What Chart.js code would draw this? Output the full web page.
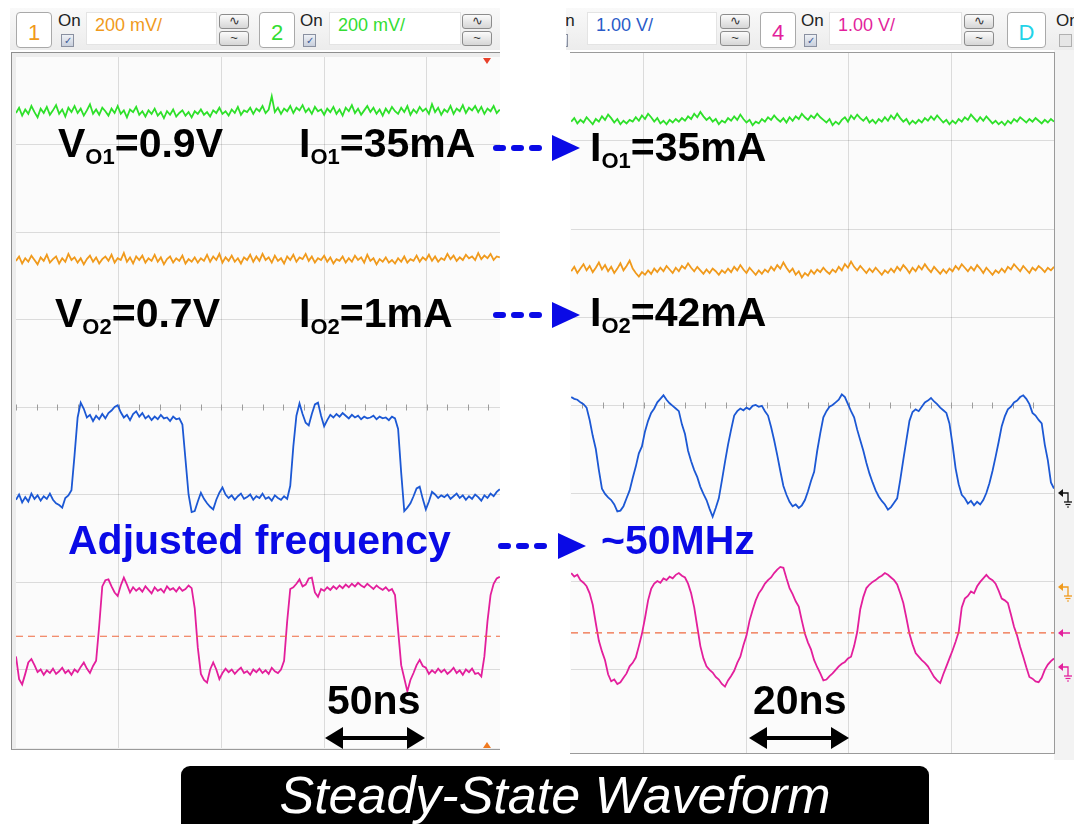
<!DOCTYPE html>
<html>
<head>
<meta charset="utf-8">
<script src="https://cdn.jsdelivr.net/npm/chart.js@4.4.1/dist/chart.umd.min.js"></script>
<style>
  body { margin: 0; width: 1074px; height: 824px; background: #fff; position: relative; overflow: hidden;
         font-family: "Liberation Sans", Arial, sans-serif; }
  .hdr { position: absolute; top: 8px; height: 42px; background: linear-gradient(#f9f9f9, #ececec); overflow: hidden; }
  .chbox { position: absolute; width: 34px; height: 34px; background: #fff; border: 1px solid #a9a9a9;
           border-radius: 4px; font-size: 22px; text-align: center; line-height: 40px; }
  .on { position: absolute; font-size: 17px; line-height: 17px; color: #222; }
  .cb { position: absolute; width: 11px; height: 11px; border: 1px solid #8a90a0;
        background: linear-gradient(#eef1f6, #c8cfdc); font-size: 10px; line-height: 11px; text-align: center; color: #3a5898; }
  .field { position: absolute; height: 33px; background: #fff; border: 1px solid #e4e4e4; box-sizing: border-box;
           font-size: 18px; line-height: 24px; padding-left: 8px; }
  .btn { position: absolute; width: 28px; height: 13px; border: 1px solid #8c8c8c; border-radius: 3px;
         background: linear-gradient(#fbfbfb, #d6d6d6); font-size: 13px; line-height: 11px; text-align: center; color: #333; }
  .frame { position: absolute; box-sizing: border-box; background: #ededed; }
  canvas { position: absolute; background: #fbfbfb; }
  .lbl { position: absolute; font-weight: bold; font-size: 41px; line-height: 41px; white-space: nowrap; color: #000; }
  .lbl sub { font-size: 22px; line-height: 22px; vertical-align: -7px; }
  #banner { position: absolute; left: 181px; top: 766px; width: 748px; height: 72px; background: #000; border-radius: 9px; }
  #banner div { position: absolute; left: 0; right: 0; top: 3px; text-align: center; color: #fff;
                font-style: italic; font-size: 52px; line-height: 52px; }
  svg { position: absolute; left: 0; top: 0; }
</style>
</head>
<body>

<div class="hdr" id="hdrLeft" style="left:10px;width:490px"></div>
<div class="hdr" id="hdrRight" style="left:566px;width:508px"></div>

<div class="frame" style="left:11px;top:52px;width:489px;height:698px;border-left:1px solid #8e8e8e;border-top:1px solid #8e8e8e;border-bottom:1px solid #9a9a9a"></div>
<canvas id="scopeLeft" width="484" height="691" style="left:16px;top:57px"></canvas>

<div class="frame" style="left:1054px;top:50px;width:20px;height:710px;background:#f3f3f3"></div>
<div class="frame" style="left:570px;top:52px;width:485px;height:702px;border-top:1px solid #9a9a9a;border-right:1px solid #9a9a9a;border-bottom:1px solid #9a9a9a;background:#fbfbfb"></div>
<canvas id="scopeRight" width="483" height="700" style="left:571px;top:53px"></canvas>

<div id="labels"></div>
<svg id="marks" width="1074" height="824"></svg>

<div id="banner"><div>Steady-State Waveform</div></div>

<script>
// Left capture: 50 ns/div, one sample every 1.5 ns from 0 ns.
// Right capture: 20 ns/div, one sample every 0.6 ns from 5.8 ns.
const LEFT_T0 = 0, LEFT_DT = 1.5, LEFT_TMAX = 235.6;
const RIGHT_T0 = 5.8, RIGHT_DT = 0.6, RIGHT_TMIN = 5.76, RIGHT_TMAX = 100;

const leftTimeGrid = [50, 100, 150, 200];
const rightTimeGrid = [20, 40, 60, 80];
const voltGrid = [-3, -2, -1, 0, 1, 2, 3];

const leftTrigger = -2.62;
const rightTrigger = -2.59;

const greenLeft = [
  3.36,3.42,3.33,3.40,3.35,3.44,3.37,3.31,3.41,3.36,
  3.43,3.34,3.39,3.45,3.35,3.40,3.32,3.42,3.37,3.44,
  3.36,3.41,3.33,3.39,3.46,3.35,3.40,3.34,3.42,3.38,
  3.33,3.41,3.36,3.44,3.35,3.39,3.31,3.40,3.37,3.43,
  3.34,3.38,3.32,3.39,3.35,3.41,3.33,3.37,3.30,3.38,
  3.34,3.40,3.32,3.36,3.39,3.33,3.37,3.31,3.38,3.35,
  3.40,3.34,3.37,3.32,3.39,3.36,3.42,3.35,3.38,3.33,
  3.40,3.36,3.43,3.34,3.39,3.37,3.42,3.35,3.41,3.38,
  3.44,3.36,3.40,3.55,3.37,3.42,3.35,3.41,3.38,3.44,
  3.36,3.42,3.39,3.45,3.37,3.41,3.35,3.43,3.38,3.40,
  3.34,3.41,3.37,3.43,3.35,3.40,3.33,3.42,3.38,3.45,
  3.36,3.41,3.34,3.39,3.44,3.37,3.42,3.35,3.40,3.33,
  3.41,3.36,3.43,3.38,3.35,3.42,3.37,3.44,3.34,3.40,
  3.36,3.43,3.38,3.41,3.35,3.46,3.37,3.42,3.34,3.40,
  3.37,3.44,3.35,3.41,3.38,3.45,3.36,3.42,3.39,3.44,
  3.37,3.43,3.35,3.41,3.38,3.44,3.36,3.40
];

const orangeLeft = [
  1.67,1.72,1.64,1.70,1.66,1.73,1.68,1.63,1.71,1.67,
  1.74,1.65,1.69,1.72,1.64,1.70,1.66,1.75,1.68,1.71,
  1.65,1.70,1.63,1.69,1.73,1.66,1.71,1.64,1.69,1.72,
  1.67,1.74,1.65,1.70,1.68,1.76,1.66,1.71,1.64,1.72,
  1.68,1.73,1.65,1.70,1.67,1.74,1.66,1.71,1.63,1.69,
  1.72,1.65,1.70,1.67,1.73,1.64,1.69,1.66,1.71,1.65,
  1.70,1.67,1.74,1.66,1.72,1.68,1.75,1.65,1.71,1.67,
  1.73,1.66,1.70,1.64,1.71,1.68,1.74,1.66,1.72,1.67,
  1.75,1.68,1.71,1.65,1.73,1.67,1.70,1.64,1.72,1.68,
  1.74,1.66,1.71,1.69,1.75,1.67,1.72,1.65,1.70,1.68,
  1.73,1.66,1.71,1.64,1.69,1.67,1.72,1.65,1.70,1.66,
  1.73,1.68,1.71,1.65,1.74,1.67,1.70,1.63,1.69,1.66,
  1.71,1.65,1.68,1.64,1.70,1.66,1.72,1.65,1.69,1.67,
  1.73,1.66,1.71,1.68,1.74,1.67,1.72,1.66,1.70,1.68,
  1.75,1.69,1.73,1.67,1.71,1.68,1.74,1.70,1.72,1.68,
  1.76,1.69,1.73,1.70,1.75,1.68,1.72,1.71
];

const blueLeft = [
  -1.06,-1.00,-1.09,-1.03,-1.08,-0.99,-1.05,-1.01,-1.07,-1.02,
  -1.05,-0.99,-1.06,-1.10,-1.12,-1.15,-1.04,-1.01,-0.95,-0.55,
  -0.12,0.05,-0.02,-0.12,-0.09,-0.16,-0.10,-0.14,-0.08,-0.13,
  -0.07,-0.04,0.00,0.02,-0.06,-0.12,-0.09,-0.15,-0.08,-0.05,
  -0.11,-0.07,-0.13,-0.10,-0.15,-0.11,-0.14,-0.09,-0.13,-0.12,
  -0.16,-0.11,-0.14,-0.13,-0.20,-0.60,-1.00,-1.20,-1.19,-1.08,
  -0.98,-1.05,-1.10,-1.14,-1.17,-1.06,-0.98,-0.92,-1.00,-1.04,
  -1.01,-1.06,-1.02,-0.99,-1.05,-1.03,-1.00,-1.06,-1.02,-1.04,
  -0.99,-1.05,-1.03,-1.07,-1.01,-1.04,-1.06,-1.02,-1.05,-0.90,
  -0.45,-0.10,0.04,-0.08,-0.18,-0.21,-0.08,0.03,0.05,-0.10,
  -0.22,-0.15,-0.09,-0.12,-0.08,-0.11,-0.07,-0.10,-0.13,-0.09,
  -0.12,-0.10,-0.14,-0.11,-0.13,-0.12,-0.10,-0.14,-0.11,-0.13,
  -0.12,-0.15,-0.11,-0.13,-0.25,-0.75,-1.19,-1.15,-1.10,-1.02,
  -0.93,-0.91,-1.05,-1.17,-1.08,-0.97,-1.00,-1.04,-1.01,-1.03,
  -1.00,-1.05,-1.02,-0.99,-1.04,-1.01,-1.06,-1.02,-1.05,-1.00,
  -1.03,-1.07,-1.01,-1.04,-0.99,-1.02,-0.97,-0.94
];

const pinkLeft = [
  -2.85,-3.11,-3.17,-3.05,-2.92,-2.88,-2.95,-3.03,-3.00,-3.06,
  -3.01,-3.04,-2.99,-3.05,-3.02,-2.98,-3.04,-3.01,-3.06,-3.00,
  -3.03,-2.97,-2.92,-2.99,-3.04,-2.96,-2.90,-2.50,-2.05,-1.98,
  -1.97,-2.05,-2.12,-2.16,-2.04,-1.95,-2.03,-2.12,-2.06,-2.10,
  -2.07,-2.11,-2.05,-2.09,-2.13,-2.06,-2.10,-2.08,-2.12,-2.05,
  -2.09,-2.07,-2.11,-2.06,-2.10,-2.08,-2.04,-2.07,-2.30,-2.75,
  -3.05,-3.12,-3.15,-3.00,-2.92,-3.00,-3.11,-3.04,-2.99,-3.03,
  -3.00,-3.05,-3.01,-2.98,-3.04,-3.02,-3.06,-3.00,-3.03,-2.99,
  -3.04,-3.01,-3.05,-2.98,-3.02,-3.04,-3.00,-2.90,-2.45,-2.08,
  -2.06,-2.02,-1.97,-2.05,-2.03,-1.96,-1.95,-2.12,-2.17,-2.08,
  -2.10,-2.06,-2.09,-2.05,-2.08,-2.04,-2.07,-2.03,-2.06,-2.02,
  -2.05,-2.01,-2.04,-2.06,-2.02,-2.05,-2.08,-2.04,-2.07,-2.09,
  -2.06,-2.10,-2.08,-2.15,-2.55,-2.95,-3.10,-3.25,-3.12,-3.04,
  -2.95,-2.89,-2.96,-2.98,-3.05,-3.01,-3.04,-2.99,-3.03,-3.00,
  -3.05,-3.02,-2.98,-3.04,-3.01,-3.06,-3.00,-3.03,-2.99,-3.05,
  -3.04,-3.08,-2.85,-2.45,-2.15,-2.02,-1.96,-1.94
];

const greenRight = [
  3.22,3.26,3.20,3.24,3.21,3.27,3.23,3.19,3.25,3.22,
  3.28,3.24,3.30,3.26,3.21,3.25,3.19,3.23,3.20,3.24,
  3.22,3.27,3.23,3.29,3.25,3.31,3.27,3.22,3.26,3.20,
  3.23,3.19,3.24,3.21,3.25,3.22,3.26,3.23,3.28,3.25,
  3.31,3.27,3.33,3.28,3.24,3.27,3.22,3.25,3.19,3.23,
  3.21,3.26,3.23,3.28,3.24,3.30,3.25,3.21,3.24,3.18,
  3.22,3.20,3.25,3.22,3.27,3.24,3.29,3.25,3.22,3.26,
  3.21,3.27,3.23,3.28,3.25,3.31,3.27,3.24,3.29,3.26,
  3.31,3.27,3.24,3.21,3.25,3.18,3.22,3.19,3.24,3.27,
  3.22,3.29,3.25,3.30,3.26,3.23,3.27,3.21,3.24,3.20,
  3.25,3.22,3.27,3.23,3.29,3.25,3.31,3.26,3.22,3.25,
  3.19,3.23,3.20,3.24,3.21,3.26,3.23,3.28,3.24,3.29,
  3.25,3.21,3.24,3.19,3.23,3.20,3.25,3.22,3.27,3.24,
  3.30,3.26,3.22,3.27,3.23,3.28,3.24,3.20,3.23,3.19,
  3.22,3.18,3.23,3.20,3.25,3.22,3.27,3.24,3.21,3.25,
  3.22,3.26,3.23,3.20,3.24,3.21,3.25,3.22
];

const orangeRight = [
  1.52,1.57,1.50,1.55,1.60,1.53,1.58,1.51,1.56,1.62,
  1.54,1.59,1.52,1.57,1.50,1.55,1.61,1.53,1.58,1.64,
  1.55,1.50,1.46,1.51,1.48,1.53,1.49,1.55,1.51,1.56,
  1.52,1.58,1.54,1.50,1.56,1.52,1.58,1.55,1.61,1.56,
  1.52,1.57,1.53,1.49,1.54,1.50,1.55,1.52,1.48,1.53,
  1.50,1.55,1.51,1.57,1.53,1.59,1.54,1.50,1.56,1.52,
  1.48,1.53,1.49,1.54,1.51,1.57,1.53,1.59,1.55,1.62,
  1.56,1.51,1.55,1.48,1.52,1.45,1.50,1.47,1.53,1.49,
  1.54,1.51,1.56,1.52,1.49,1.54,1.51,1.57,1.53,1.60,
  1.56,1.63,1.57,1.53,1.58,1.54,1.50,1.55,1.51,1.56,
  1.52,1.48,1.53,1.50,1.55,1.51,1.57,1.53,1.59,1.55,
  1.50,1.56,1.52,1.58,1.54,1.60,1.55,1.51,1.57,1.53,
  1.49,1.54,1.50,1.55,1.52,1.58,1.54,1.60,1.56,1.52,
  1.57,1.53,1.59,1.55,1.50,1.56,1.52,1.48,1.53,1.50,
  1.55,1.51,1.57,1.54,1.60,1.56,1.52,1.58,1.54,1.50,
  1.56,1.53,1.58,1.55,1.51,1.56,1.53,1.57
];

const blueRight = [
  0.09,0.07,0.06,0.03,0.01,-0.03,-0.17,-0.35,-0.50,-0.74,
  -0.95,-1.01,-1.05,-1.08,-1.13,-1.21,-1.20,-1.15,-1.06,-0.97,
  -0.83,-0.70,-0.55,-0.47,-0.30,-0.18,-0.09,-0.04,0.03,0.07,
  0.11,0.06,0.02,-0.01,-0.04,-0.07,-0.22,-0.33,-0.52,-0.64,
  -0.74,-0.82,-0.93,-1.01,-1.08,-1.18,-1.27,-1.17,-1.06,-0.86,
  -0.65,-0.45,-0.28,-0.12,-0.07,-0.04,-0.06,-0.03,-0.05,-0.01,
  0.00,-0.02,-0.01,-0.07,-0.12,-0.25,-0.40,-0.57,-0.75,-0.92,
  -1.02,-1.10,-1.15,-1.13,-1.17,-1.14,-1.08,-0.98,-0.86,-0.76,
  -0.52,-0.32,-0.14,-0.07,-0.02,0.00,0.03,0.06,0.12,0.09,
  0.01,-0.07,-0.14,-0.28,-0.40,-0.52,-0.66,-0.78,-0.88,-0.97,
  -1.04,-1.09,-1.13,-1.19,-1.16,-1.11,-1.06,-0.85,-0.62,-0.40,
  -0.18,-0.08,-0.05,-0.07,-0.02,0.03,0.05,0.08,0.04,0.01,
  -0.03,-0.06,-0.09,-0.21,-0.45,-0.72,-0.90,-1.02,-1.06,-1.12,
  -1.09,-1.14,-1.10,-1.13,-1.08,-1.00,-0.89,-0.75,-0.59,-0.42,
  -0.24,-0.13,-0.05,-0.02,0.03,0.05,0.09,0.11,0.07,0.01,
  -0.09,-0.12,-0.17,-0.21,-0.45,-0.63,-0.88,-0.95
];

const pinkRight = [
  -1.91,-1.95,-1.93,-1.99,-2.02,-2.06,-2.14,-2.27,-2.48,-2.68,
  -2.80,-2.90,-3.06,-3.14,-3.12,-3.17,-3.15,-3.10,-3.05,-2.97,
  -2.93,-2.87,-2.74,-2.60,-2.42,-2.22,-2.09,-2.03,-2.00,-2.02,
  -1.97,-1.99,-1.95,-1.97,-1.93,-1.91,-1.94,-1.96,-2.03,-2.14,
  -2.30,-2.52,-2.74,-2.88,-2.97,-3.01,-3.04,-3.09,-3.12,-3.17,
  -3.20,-3.13,-3.08,-3.02,-2.93,-2.86,-2.73,-2.62,-2.45,-2.33,
  -2.22,-2.14,-2.09,-2.03,-1.99,-1.96,-1.91,-1.87,-1.84,-1.85,
  -1.97,-2.08,-2.15,-2.23,-2.29,-2.45,-2.60,-2.70,-2.78,-2.90,
  -2.98,-3.05,-3.13,-3.12,-3.08,-3.05,-3.01,-2.97,-2.94,-2.92,
  -2.88,-2.86,-2.74,-2.58,-2.32,-2.18,-2.08,-2.04,-2.01,-1.99,
  -1.96,-1.94,-1.91,-1.93,-1.96,-1.99,-2.04,-2.14,-2.25,-2.42,
  -2.60,-2.72,-2.82,-2.86,-2.90,-2.93,-2.97,-3.03,-3.09,-3.13,
  -3.16,-3.06,-2.97,-2.88,-2.79,-2.69,-2.58,-2.30,-2.20,-2.17,
  -2.12,-2.14,-2.06,-2.01,-1.97,-1.93,-1.97,-1.99,-2.03,-2.11,
  -2.20,-2.22,-2.25,-2.38,-2.52,-2.62,-2.75,-2.86,-2.98,-3.09,
  -3.11,-3.14,-3.15,-3.10,-3.01,-2.95,-2.91,-2.88
];

const GREEN = '#2ee02a', ORANGE = '#f09a1c', BLUE = '#1c58d4', PINK = '#e31f9c', TRIG = '#f06a40';

function toXY(t0, dt, vals) {
  return vals.map((v, i) => ({ x: t0 + i * dt, y: v }));
}

// Small tick marks along the centre line, 1/5 of a division apart
const centerTicks = {
  id: 'centerTicks',
  beforeDatasetsDraw(chart, args, opts) {
    const { ctx, scales: { x, y } } = chart;
    const y0 = Math.round(y.getPixelForValue(0)) + 0.5;
    ctx.save();
    ctx.strokeStyle = '#9c9c9c';
    ctx.lineWidth = 1;
    for (let t = Math.ceil(x.min / opts.step) * opts.step; t <= x.max; t += opts.step) {
      const px = Math.round(x.getPixelForValue(t)) + 0.5;
      ctx.beginPath();
      ctx.moveTo(px, y0 - 3);
      ctx.lineTo(px, y0 + 3);
      ctx.stroke();
    }
    ctx.restore();
  }
};

function trace(data, color) {
  return { data: data, borderColor: color, borderWidth: 1.8, pointRadius: 0, tension: 0, fill: false };
}

function makeScope(id, xMin, xMax, yMin, timeGrid, minorStep, trigger, traces) {
  const datasets = [{
    data: [{ x: xMin, y: trigger }, { x: xMax, y: trigger }],
    borderColor: TRIG, borderWidth: 1.2, borderDash: [7, 5], pointRadius: 0, fill: false
  }].concat(traces);

  return new Chart(document.getElementById(id), {
    type: 'line',
    data: { datasets: datasets },
    plugins: [centerTicks],
    options: {
      responsive: false,
      animation: false,
      events: [],
      layout: { padding: 0, autoPadding: false },
      plugins: {
        legend: { display: false },
        tooltip: { enabled: false },
        centerTicks: { step: minorStep }
      },
      scales: {
        x: {
          type: 'linear', min: xMin, max: xMax,
          afterBuildTicks: axis => { axis.ticks = timeGrid.map(v => ({ value: v })); },
          ticks: { display: false },
          grid: { color: 'rgba(0,0,0,0.13)', drawTicks: false },
          border: { display: false }
        },
        y: {
          type: 'linear', min: yMin, max: 4,
          afterBuildTicks: axis => { axis.ticks = voltGrid.map(v => ({ value: v })); },
          ticks: { display: false },
          grid: { color: 'rgba(0,0,0,0.13)', drawTicks: false },
          border: { display: false }
        }
      }
    }
  });
}

makeScope('scopeLeft', 0, LEFT_TMAX, 4 - 691 / 87.5, leftTimeGrid, 10, leftTrigger, [
  trace(toXY(LEFT_T0, LEFT_DT, greenLeft), GREEN),
  trace(toXY(LEFT_T0, LEFT_DT, orangeLeft), ORANGE),
  trace(toXY(LEFT_T0, LEFT_DT, blueLeft), BLUE),
  trace(toXY(LEFT_T0, LEFT_DT, pinkLeft), PINK)
]);

makeScope('scopeRight', RIGHT_TMIN, RIGHT_TMAX, 4 - 700 / 88, rightTimeGrid, 4, rightTrigger, [
  trace(toXY(RIGHT_T0, RIGHT_DT, greenRight), GREEN),
  trace(toXY(RIGHT_T0, RIGHT_DT, orangeRight), ORANGE),
  trace(toXY(RIGHT_T0, RIGHT_DT, blueRight), BLUE),
  trace(toXY(RIGHT_T0, RIGHT_DT, pinkRight), PINK)
]);

// Scope header strips
function put(parent, cls, x, y, html, style) {
  const d = document.createElement('div');
  d.className = cls;
  d.style.left = (x - parent.offsetLeft) + 'px';
  d.style.top = (y - parent.offsetTop) + 'px';
  if (style) Object.assign(d.style, style);
  d.innerHTML = html;
  parent.appendChild(d);
  return d;
}

function channel(parent, boxX, num, color, onX, fieldX, fieldW, text, btnX, checked) {
  if (boxX !== null) put(parent, 'chbox', boxX, 12, num, { color: color, width: (num === 'D' ? 37 : 34) + 'px' });
  put(parent, 'on', onX, 12, 'On');
  put(parent, 'cb', onX + 3, 34, checked ? '&#10003;' : '', checked ? {} : { background: '#e6e6e6', borderColor: '#b0b0b0' });
  if (fieldX !== null) {
    put(parent, 'field', fieldX, 12, text, { width: fieldW + 'px', color: color });
    put(parent, 'btn', btnX, 14, '&#8767;');
    put(parent, 'btn', btnX, 31, '~');
  }
}

const hl = document.getElementById('hdrLeft');
const hr = document.getElementById('hdrRight');
channel(hl, 16, '1', ORANGE, 58, 86, 131, '200 mV/', 219, true);
channel(hl, 259, '2', '#33dd33', 300, 329, 132, '200 mV/', 462, true);
channel(hr, null, '3', BLUE, 552, null, 0, '', 0, true);
put(hr, 'field', 587, 12, '1.00 V/', { width: '130px', color: '#2a5bc8' });
put(hr, 'btn', 720, 14, '&#8767;');
put(hr, 'btn', 720, 31, '~');
channel(hr, 760, '4', PINK, 801, 829, 133, '1.00 V/', 964, true);
channel(hr, 1007, 'D', '#22d3e8', 1056, null, 0, '', 0, false);

// Annotations
const labels = document.getElementById('labels');
function label(html, x, baseline, color) {
  const d = document.createElement('div');
  d.className = 'lbl';
  d.style.left = x + 'px';
  d.style.top = (baseline - 0.8465 * 41) + 'px';
  if (color) d.style.color = color;
  d.innerHTML = html;
  labels.appendChild(d);
}
const ANNOT_BLUE = '#0a0ae6';
label('V<sub>O1</sub>=0.9V', 58, 158);
label('I<sub>O1</sub>=35mA', 299, 158);
label('V<sub>O2</sub>=0.7V', 55, 328);
label('I<sub>O2</sub>=1mA', 299, 328);
label('I<sub>O1</sub>=35mA', 590, 162);
label('I<sub>O2</sub>=42mA', 590, 327);
label('Adjusted frequency', 68, 555, ANNOT_BLUE);
label('~50MHz', 601, 555, ANNOT_BLUE);
label('50ns', 327, 715);
label('20ns', 753, 715);

const svg = document.getElementById('marks');
const NS = 'http://www.w3.org/2000/svg';
function shape(tag, attrs) {
  const e = document.createElementNS(NS, tag);
  for (const k in attrs) e.setAttribute(k, attrs[k]);
  svg.appendChild(e);
}
function dashArrow(x1, x2, tip, y) {
  shape('line', { x1: x1, y1: y, x2: x2, y2: y, stroke: ANNOT_BLUE, 'stroke-width': 6, 'stroke-dasharray': '7 11', 'stroke-linecap': 'round' });
  shape('polygon', { points: `${tip - 28},${y - 13} ${tip},${y} ${tip - 28},${y + 13}`, fill: ANNOT_BLUE });
}
function spanArrow(x1, x2, y) {
  shape('line', { x1: x1 + 12, y1: y, x2: x2 - 12, y2: y, stroke: '#000', 'stroke-width': 4 });
  shape('polygon', { points: `${x1},${y} ${x1 + 18},${y - 11} ${x1 + 18},${y + 11}`, fill: '#000' });
  shape('polygon', { points: `${x2},${y} ${x2 - 18},${y - 11} ${x2 - 18},${y + 11}`, fill: '#000' });
}
dashArrow(496, 540, 580, 148);
dashArrow(496, 540, 580, 315);
dashArrow(501, 545, 586, 546);
spanArrow(325, 425, 738);
spanArrow(749, 849, 738);

// trigger position markers on the left capture
shape('polygon', { points: '483,58 491,58 487,64', fill: '#e8402a' });
shape('polygon', { points: '483,748 491,748 487,742', fill: '#f07a20' });

// channel reference markers at the right edge
function refMark(y, color, ground) {
  shape('polygon', { points: `1058,${y} 1063,${y - 4} 1063,${y + 4}`, fill: color });
  if (ground) {
    shape('polyline', { points: `1063,${y} 1068,${y} 1068,${y + 9}`, fill: 'none', stroke: color, 'stroke-width': 1.3 });
    shape('line', { x1: 1064, y1: y + 9, x2: 1072, y2: y + 9, stroke: color, 'stroke-width': 1.3 });
    shape('line', { x1: 1065.5, y1: y + 11.5, x2: 1070.5, y2: y + 11.5, stroke: color, 'stroke-width': 1.2 });
    shape('line', { x1: 1067, y1: y + 14, x2: 1069, y2: y + 14, stroke: color, 'stroke-width': 1.2 });
  } else {
    shape('line', { x1: 1062, y1: y, x2: 1070, y2: y, stroke: color, 'stroke-width': 1.5 });
  }
}
refMark(493, '#111', true);
refMark(587, ORANGE, true);
refMark(633, PINK, false);
refMark(667, PINK, true);
</script>
</body>
</html>
